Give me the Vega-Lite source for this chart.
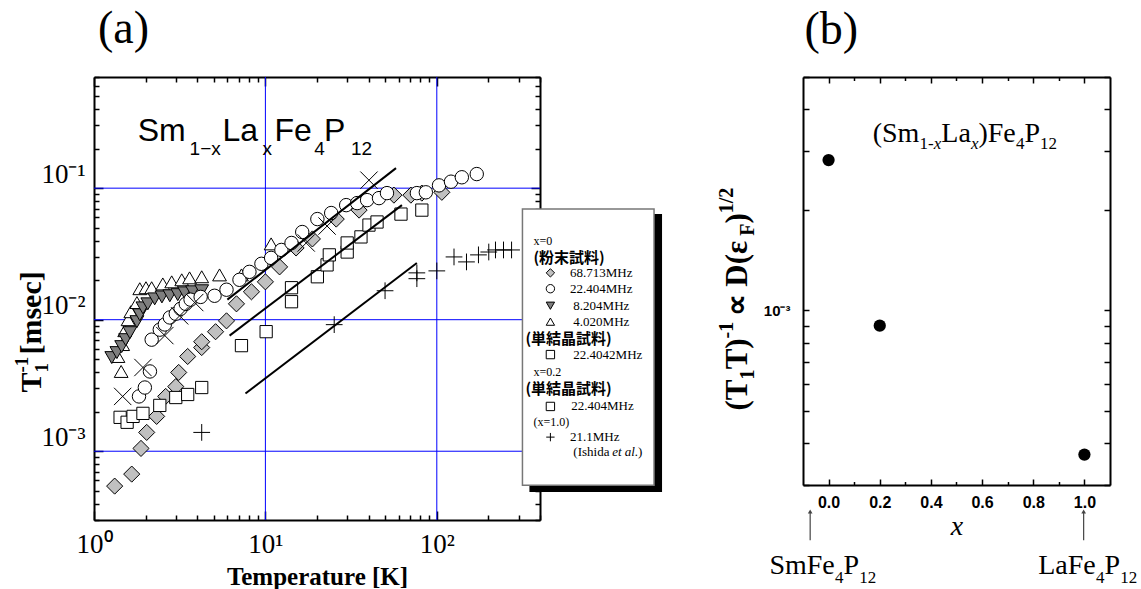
{
 "$schema": "https://vega.github.io/schema/vega-lite/v6.json",
 "background": "white",
 "padding": {"left": 12, "top": 5, "right": 0, "bottom": 0},
 "autosize": {"type": "pad"},
 "bounds": "flush",
 "spacing": 263,
 "datasets": {
  "pts": [
   {"s":"d","T":1.32,"R":0.000543},{"s":"d","T":1.66,"R":0.00067},{"s":"d","T":1.88,"R":0.00105},{"s":"d","T":2.03,"R":0.00139},{"s":"d","T":2.32,"R":0.00184},{"s":"d","T":2.62,"R":0.00261},{"s":"d","T":3.0,"R":0.0031},{"s":"d","T":3.12,"R":0.00397},{"s":"d","T":3.52,"R":0.00525},{"s":"d","T":4.25,"R":0.00614},{"s":"d","T":4.25,"R":0.0068},{"s":"d","T":5.12,"R":0.0081},{"s":"d","T":5.93,"R":0.0098},{"s":"d","T":6.78,"R":0.0132},{"s":"d","T":8.29,"R":0.0163},{"s":"d","T":10,"R":0.0194},{"s":"d","T":12.1,"R":0.0252},{"s":"d","T":15.1,"R":0.0351},{"s":"d","T":18.8,"R":0.0411},{"s":"d","T":25.9,"R":0.0582},{"s":"d","T":35.2,"R":0.0681},{"s":"d","T":56.2,"R":0.0885},{"s":"d","T":70.6,"R":0.0885},{"s":"d","T":81.8,"R":0.0917},{"s":"d","T":107,"R":0.093},
   {"s":"q0","T":1.42,"R":0.00181},{"s":"q0","T":1.56,"R":0.00166},{"s":"q0","T":1.69,"R":0.00184},{"s":"q0","T":1.93,"R":0.00194},{"s":"q0","T":2.42,"R":0.00223},{"s":"q0","T":3.0,"R":0.00256},{"s":"q0","T":3.52,"R":0.0027},{"s":"q0","T":4.25,"R":0.00305},
   {"s":"q2","T":7.25,"R":0.00635},{"s":"q2","T":10.1,"R":0.00811},{"s":"q2","T":14.2,"R":0.0175},{"s":"q2","T":14.2,"R":0.0137},{"s":"q2","T":20.1,"R":0.0212},{"s":"q2","T":22.9,"R":0.0261},{"s":"q2","T":23.6,"R":0.0311},{"s":"q2","T":30.0,"R":0.0327},{"s":"q2","T":30.0,"R":0.0383},{"s":"q2","T":36.1,"R":0.0426},{"s":"q2","T":40.2,"R":0.0524},{"s":"q2","T":44.8,"R":0.0553},{"s":"q2","T":61.8,"R":0.0635},{"s":"q2","T":81.8,"R":0.0681},
   {"s":"u","T":1.44,"R":0.00404},{"s":"u","T":1.38,"R":0.00525},{"s":"u","T":1.47,"R":0.00647},{"s":"u","T":1.51,"R":0.00825},{"s":"u","T":1.58,"R":0.01},{"s":"u","T":1.64,"R":0.0115},{"s":"u","T":1.78,"R":0.0135},{"s":"u","T":1.85,"R":0.0172},{"s":"u","T":2.01,"R":0.0175},{"s":"u","T":2.17,"R":0.0175},{"s":"u","T":2.52,"R":0.0187},{"s":"u","T":2.84,"R":0.0194},{"s":"u","T":3.25,"R":0.0201},{"s":"u","T":3.61,"R":0.0208},{"s":"u","T":4.25,"R":0.0212},{"s":"u","T":5.4,"R":0.0219},{"s":"u","T":7.25,"R":0.0219},{"s":"u","T":10.8,"R":0.0377},
   {"s":"v","T":1.27,"R":0.00515},{"s":"v","T":1.36,"R":0.00562},{"s":"v","T":1.45,"R":0.00624},{"s":"v","T":1.53,"R":0.00705},{"s":"v","T":1.62,"R":0.00797},{"s":"v","T":1.78,"R":0.00966},{"s":"v","T":1.85,"R":0.0109},{"s":"v","T":1.93,"R":0.0123},{"s":"v","T":2.06,"R":0.0132},{"s":"v","T":2.26,"R":0.0144},{"s":"v","T":2.49,"R":0.0149},{"s":"v","T":2.77,"R":0.0152},{"s":"v","T":3.08,"R":0.0155},{"s":"v","T":3.38,"R":0.016},{"s":"v","T":3.76,"R":0.0163},{"s":"v","T":4.25,"R":0.0166},
   {"s":"c","T":1.83,"R":0.00261},{"s":"c","T":1.98,"R":0.00305},{"s":"c","T":2.12,"R":0.00404},{"s":"c","T":2.17,"R":0.00705},{"s":"c","T":2.42,"R":0.0084},{"s":"c","T":2.59,"R":0.0092},{"s":"c","T":2.77,"R":0.0104},{"s":"c","T":3.0,"R":0.0111},{"s":"c","T":3.2,"R":0.0121},{"s":"c","T":3.43,"R":0.0132},{"s":"c","T":3.66,"R":0.0142},{"s":"c","T":4.19,"R":0.0149},{"s":"c","T":5.05,"R":0.0152},{"s":"c","T":5.93,"R":0.0169},{"s":"c","T":7.06,"R":0.0201},{"s":"c","T":8.07,"R":0.0231},{"s":"c","T":9.48,"R":0.0266},{"s":"c","T":10.8,"R":0.0295},{"s":"c","T":12.4,"R":0.0339},{"s":"c","T":14.2,"R":0.0383},{"s":"c","T":16.4,"R":0.0464},{"s":"c","T":20.1,"R":0.0582},{"s":"c","T":24.2,"R":0.0647},{"s":"c","T":29.6,"R":0.0743},{"s":"c","T":34.3,"R":0.077},{"s":"c","T":39.2,"R":0.0811},{"s":"c","T":46.0,"R":0.084},{"s":"c","T":51.2,"R":0.0917},{"s":"c","T":76.5,"R":0.0917},{"s":"c","T":86.3,"R":0.093},{"s":"c","T":103,"R":0.105},{"s":"c","T":121,"R":0.112},{"s":"c","T":140,"R":0.121},{"s":"c","T":171,"R":0.128},
   {"s":"x","T":1.47,"R":0.00261},{"s":"x","T":1.93,"R":0.00433},{"s":"x","T":2.59,"R":0.00757},{"s":"x","T":3.16,"R":0.0107},{"s":"x","T":3.87,"R":0.0135},{"s":"x","T":17.3,"R":0.0383},{"s":"x","T":22.9,"R":0.0515},{"s":"x","T":40.2,"R":0.115},
   {"s":"p","T":4.25,"R":0.00139},{"s":"p","T":25.2,"R":0.00917},{"s":"p","T":49.9,"R":0.0166},{"s":"p","T":76.5,"R":0.0227},{"s":"p","T":76.5,"R":0.0205},{"s":"p","T":100,"R":0.0235},{"s":"p","T":126,"R":0.03},{"s":"p","T":149,"R":0.0275},{"s":"p","T":175,"R":0.0311},{"s":"p","T":201,"R":0.0327},{"s":"p","T":220,"R":0.0339},{"s":"p","T":245,"R":0.0339},{"s":"p","T":273,"R":0.0339}
  ],
  "lines": [
   {"id":1,"T":6.0,"R":0.0142},{"id":1,"T":57.8,"R":0.142},
   {"id":2,"T":6.18,"R":0.00757},{"id":2,"T":62.6,"R":0.0743},
   {"id":3,"T":7.65,"R":0.00275},{"id":3,"T":76.5,"R":0.027}
  ],
  "gx": [{"g":10},{"g":100}],
  "gy": [{"g":0.1},{"g":0.01},{"g":0.001}],
  "shadow": [{"T":347,"T2":2061,"R":0.0636,"R2":0.000489}],
  "box": [{"T":316,"T2":1851,"R":0.0693,"R2":0.000552}],
  "lgsym": [
   {"s":"d","T":460,"R":0.0227},{"s":"c","T":460,"R":0.0172},{"s":"v","T":460,"R":0.01277},{"s":"u","T":460,"R":0.00966},{"s":"q0","T":460,"R":0.00543},{"s":"q2","T":460,"R":0.00219},{"s":"p","T":460,"R":0.00128}
  ],
  "lgtxt": [
   {"t":"68.713MHz","T":599,"R":0.0227},{"t":"22.404MHz","T":599,"R":0.0172},{"t":"8.204MHz","T":626,"R":0.01277},{"t":"4.020MHz","T":626,"R":0.00966},{"t":"22.4042MHz","T":626,"R":0.00543},{"t":"22.404MHz","T":609,"R":0.00219},{"t":"21.1MHz","T":599,"R":0.00128},{"t":"(Ishida","T":626,"R":0.00098},{"t":")","T":1494,"R":0.00098}
  ],
  "lghead": [{"t":"x=0","T":366,"R":0.0395},{"t":"x=0.2","T":366,"R":0.00402},{"t":"(x=1.0)","T":366,"R":0.00166}],
  "lgital": [{"t":"et al.","T":1055,"R":0.00098}],
  "lgcjk": [
   {"t":"(粉末試料)","T":366,"R":0.0292},{"t":"(単結晶試料)","T":329,"R":0.00712},{"t":"(単結晶試料)","T":329,"R":0.00297}
  ],
  "fbig": [{"t":"Sm","T":1.80,"R":0.227},{"t":"La","T":5.62,"R":0.227},{"t":"Fe","T":11.3,"R":0.227},{"t":"P","T":22.0,"R":0.227}],
  "fsmall": [{"t":"1−x","T":3.61,"R":0.178},{"t":"x","T":9.61,"R":0.178},{"t":"4","T":19.3,"R":0.178},{"t":"12","T":31.6,"R":0.178}],
  "ytmain": [{"t":"T","T":0.492,"R":0.0028},{"t":"[msec]","T":0.492,"R":0.00543}],
  "ytsmall": [{"t":"1","T":0.537,"R":0.00397},{"t":"-1","T":0.41,"R":0.00397}],
  "plabA": [{"t":"(a)","T":1.055,"R":1.276}],
  "bpts": [{"xv":0,"v":0.00282},{"xv":0.2,"v":0.0009},{"xv":1.0,"v":0.00037}],
  "plabB": [{"t":"(b)","xv":-0.094,"v":0.00627}],
  "bbig": [
   {"t":"(Sm","xv":0.1725,"v":0.00319},{"t":"La","xv":0.4408,"v":0.00319},{"t":")Fe","xv":0.5859,"v":0.00319},{"t":"P","xv":0.7655,"v":0.00319},
   {"t":"SmFe","xv":-0.2314,"v":0.000162},{"t":"P","xv":0.0584,"v":0.000162},{"t":"LaFe","xv":0.8196,"v":0.000162},{"t":"P","xv":1.0784,"v":0.000162}
  ],
  "bsub": [
   {"t":"1-","xv":0.3557,"v":0.00304},{"t":"4","xv":0.7322,"v":0.00304},{"t":"12","xv":0.8267,"v":0.00304},
   {"t":"4","xv":0.0251,"v":0.000153},{"t":"12","xv":0.1196,"v":0.000153},{"t":"4","xv":1.0451,"v":0.000153},{"t":"12","xv":1.1396,"v":0.000153}
  ],
  "bsubi": [{"t":"x","xv":0.4114,"v":0.00304},{"t":"x","xv":0.5565,"v":0.00304}],
  "brmain": [{"t":"(T","xv":-0.318,"v":0.0005015},{"t":"T)","xv":-0.318,"v":0.000666},{"t":"∝ D(ε","xv":-0.318,"v":0.000959},{"t":")","xv":-0.318,"v":0.00182}],
  "brsmall": [{"t":"1","xv":-0.29,"v":0.000621},{"t":"F","xv":-0.29,"v":0.001674},{"t":"-1","xv":-0.373,"v":0.0008245},{"t":"1/2","xv":-0.373,"v":0.001954}],
  "arr": [{"xv":-0.072,"v1":0.000205,"v2":0.00025},{"xv":0.997,"v1":0.000205,"v2":0.00025}]
 },
 "hconcat": [
  {
   "width": 446,
   "height": 443,
   "layer": [
    {
     "data": {"name":"gx"},
     "mark": {"type":"rule","color":"#0000ff","strokeWidth":1},
     "encoding": {
      "x": {"field":"g","type":"quantitative","scale":{"type":"log","domain":[1,400],"nice":false,"zero":false},"axis":null}
     }
    },
    {
     "data": {"name":"gy"},
     "mark": {"type":"rule","color":"#0000ff","strokeWidth":1},
     "encoding": {
      "y": {"field":"g","type":"quantitative","scale":{"type":"log","domain":[0.0003,0.7],"nice":false,"zero":false},"axis":null}
     }
    },
    {
     "data": {"name":"pts"},
     "mark": {"type":"point","filled":true,"stroke":"black","strokeWidth":1,"opacity":1},
     "encoding": {
      "x": {"field":"T","type":"quantitative","scale":{"type":"log","domain":[1,400],"nice":false,"zero":false},
        "axis":{"orient":"bottom","values":[1,2,3,4,5,6,7,8,9,10,20,30,40,50,60,70,80,90,100,200,300,400],
          "labelExpr":"datum.value == 1 ? '10⁰' : datum.value == 10 ? '10¹' : datum.value == 100 ? '10²' : ''",
          "tickSize":{"condition":{"test":"datum.value == 1 || datum.value == 10 || datum.value == 100","value":-9},"value":-5},
          "grid":false,
          "labelFont":"Liberation Serif","labelFontSize":27,"labelPadding":20,"labelFlush":false,"labelOverlap":false,
          "title":"Temperature [K]","titleFont":"Liberation Serif","titleFontWeight":"bold","titleFontSize":25,"titlePadding":3,"zindex":0}},
      "y": {"field":"R","type":"quantitative","scale":{"type":"log","domain":[0.0003,0.7],"nice":false,"zero":false},
        "axis":{"orient":"left","values":[0.0003,0.0004,0.0005,0.0006,0.0007,0.0008,0.0009,0.001,0.002,0.003,0.004,0.005,0.006,0.007,0.008,0.009,0.01,0.02,0.03,0.04,0.05,0.06,0.07,0.08,0.09,0.1,0.2,0.3,0.4,0.5,0.6,0.7],
          "labelExpr":"datum.value == 0.1 ? '10⁻¹' : datum.value == 0.01 ? '10⁻²' : datum.value == 0.001 ? '10⁻³' : ''",
          "tickSize":{"condition":{"test":"datum.value == 0.1 || datum.value == 0.01 || datum.value == 0.001","value":-9},"value":-5},
          "grid":false,
          "labelFont":"Liberation Serif","labelFontSize":27,"labelPadding":18,"labelBaseline":"bottom","labelFlush":false,"labelOverlap":false,
          "title":null,"zindex":0}},
      "shape": {"field":"s","type":"nominal","legend":null,"scale":{"domain":["d","q0","q2","v","u","c","x","p"],"range":["diamond","square","square","triangle-down","triangle-up","circle","M-1,-1L1,1M-1,1L1,-1","M-1,0L1,0M0,-1L0,1"]}},
      "fill": {"field":"s","type":"nominal","legend":null,"scale":{"domain":["d","q0","q2","v","u","c","x","p"],"range":["#c0c0c0","white","white","#7f7f7f","white","white","none","none"]}},
      "size": {"field":"s","type":"ordinal","legend":null,"scale":{"type":"ordinal","domain":["d","q0","q2","v","u","c","x","p"],"range":[260,150,150,190,190,180,300,280]}}
     }
    },
    {
     "data": {"name":"lines"},
     "mark": {"type":"line","color":"black","strokeWidth":2},
     "encoding": {
      "x": {"field":"T","type":"quantitative","scale":{"type":"log","domain":[1,400],"nice":false,"zero":false},"axis":null},
      "y": {"field":"R","type":"quantitative","scale":{"type":"log","domain":[0.0003,0.7],"nice":false,"zero":false},"axis":null},
      "detail": {"field":"id","type":"nominal"}
     }
    },
    {
     "data": {"name":"pts"},
     "mark": {"type":"point","opacity":0},
     "encoding": {
      "x": {"field":"T","type":"quantitative","scale":{"type":"log","domain":[1,400],"nice":false,"zero":false},
        "axis":{"orient":"top","values":[1,2,3,4,5,6,7,8,9,10,20,30,40,50,60,70,80,90,100,200,300,400],"labels":false,
          "tickSize":{"condition":{"test":"datum.value == 1 || datum.value == 10 || datum.value == 100","value":-9},"value":-5},
          "grid":false,"title":null,"zindex":0}},
      "y": {"field":"R","type":"quantitative","scale":{"type":"log","domain":[0.0003,0.7],"nice":false,"zero":false},
        "axis":{"orient":"right","values":[0.0003,0.0004,0.0005,0.0006,0.0007,0.0008,0.0009,0.001,0.002,0.003,0.004,0.005,0.006,0.007,0.008,0.009,0.01,0.02,0.03,0.04,0.05,0.06,0.07,0.08,0.09,0.1,0.2,0.3,0.4,0.5,0.6,0.7],"labels":false,
          "tickSize":{"condition":{"test":"datum.value == 0.1 || datum.value == 0.01 || datum.value == 0.001","value":-9},"value":-5},
          "grid":false,"title":null,"zindex":0}}
     }
    },
    {
     "data": {"name":"shadow"},
     "mark": {"type":"rect","fill":"black","clip":false},
     "encoding": {
      "x": {"field":"T","type":"quantitative","scale":{"type":"log","domain":[1,400],"nice":false,"zero":false},"axis":null},
      "x2": {"field":"T2"},
      "y": {"field":"R","type":"quantitative","scale":{"type":"log","domain":[0.0003,0.7],"nice":false,"zero":false},"axis":null},
      "y2": {"field":"R2"}
     }
    },
    {
     "data": {"name":"box"},
     "mark": {"type":"rect","fill":"white","stroke":"#777777","strokeWidth":1.5,"clip":false},
     "encoding": {
      "x": {"field":"T","type":"quantitative","scale":{"type":"log","domain":[1,400],"nice":false,"zero":false},"axis":null},
      "x2": {"field":"T2"},
      "y": {"field":"R","type":"quantitative","scale":{"type":"log","domain":[0.0003,0.7],"nice":false,"zero":false},"axis":null},
      "y2": {"field":"R2"}
     }
    },
    {
     "data": {"name":"lgsym"},
     "mark": {"type":"point","filled":true,"stroke":"black","strokeWidth":1,"opacity":1,"size":70,"clip":false},
     "encoding": {
      "x": {"field":"T","type":"quantitative","scale":{"type":"log","domain":[1,400],"nice":false,"zero":false},"axis":null},
      "y": {"field":"R","type":"quantitative","scale":{"type":"log","domain":[0.0003,0.7],"nice":false,"zero":false},"axis":null},
      "shape": {"field":"s","type":"nominal","legend":null,"scale":{"domain":["d","q0","q2","v","u","c","x","p"],"range":["diamond","square","square","triangle-down","triangle-up","circle","M-1,-1L1,1M-1,1L1,-1","M-1,0L1,0M0,-1L0,1"]}},
      "fill": {"field":"s","type":"nominal","legend":null,"scale":{"domain":["d","q0","q2","v","u","c","x","p"],"range":["#c0c0c0","white","white","#7f7f7f","white","white","none","none"]}}
     }
    },
    {
     "data": {"name":"lgtxt"},
     "mark": {"type":"text","font":"Liberation Serif","fontSize":13,"align":"left","baseline":"middle","color":"black","clip":false},
     "encoding": {
      "x": {"field":"T","type":"quantitative","scale":{"type":"log","domain":[1,400],"nice":false,"zero":false},"axis":null},
      "y": {"field":"R","type":"quantitative","scale":{"type":"log","domain":[0.0003,0.7],"nice":false,"zero":false},"axis":null},
      "text": {"field":"t"}
     }
    },
    {
     "data": {"name":"lghead"},
     "mark": {"type":"text","font":"Liberation Serif","fontSize":12,"align":"left","baseline":"middle","color":"black","clip":false},
     "encoding": {
      "x": {"field":"T","type":"quantitative","scale":{"type":"log","domain":[1,400],"nice":false,"zero":false},"axis":null},
      "y": {"field":"R","type":"quantitative","scale":{"type":"log","domain":[0.0003,0.7],"nice":false,"zero":false},"axis":null},
      "text": {"field":"t"}
     }
    },
    {
     "data": {"name":"lgital"},
     "mark": {"type":"text","font":"Liberation Serif","fontSize":13,"fontStyle":"italic","align":"left","baseline":"middle","color":"black","clip":false},
     "encoding": {
      "x": {"field":"T","type":"quantitative","scale":{"type":"log","domain":[1,400],"nice":false,"zero":false},"axis":null},
      "y": {"field":"R","type":"quantitative","scale":{"type":"log","domain":[0.0003,0.7],"nice":false,"zero":false},"axis":null},
      "text": {"field":"t"}
     }
    },
    {
     "data": {"name":"lgcjk"},
     "mark": {"type":"text","font":"Noto Sans CJK JP","fontSize":15,"fontWeight":"bold","align":"left","baseline":"middle","color":"black","clip":false},
     "encoding": {
      "x": {"field":"T","type":"quantitative","scale":{"type":"log","domain":[1,400],"nice":false,"zero":false},"axis":null},
      "y": {"field":"R","type":"quantitative","scale":{"type":"log","domain":[0.0003,0.7],"nice":false,"zero":false},"axis":null},
      "text": {"field":"t"}
     }
    },
    {
     "data": {"name":"fbig"},
     "mark": {"type":"text","font":"Liberation Sans","fontSize":32,"align":"left","baseline":"alphabetic","color":"black","clip":false},
     "encoding": {
      "x": {"field":"T","type":"quantitative","scale":{"type":"log","domain":[1,400],"nice":false,"zero":false},"axis":null},
      "y": {"field":"R","type":"quantitative","scale":{"type":"log","domain":[0.0003,0.7],"nice":false,"zero":false},"axis":null},
      "text": {"field":"t"}
     }
    },
    {
     "data": {"name":"fsmall"},
     "mark": {"type":"text","font":"Liberation Sans","fontSize":19,"align":"left","baseline":"alphabetic","color":"black","clip":false},
     "encoding": {
      "x": {"field":"T","type":"quantitative","scale":{"type":"log","domain":[1,400],"nice":false,"zero":false},"axis":null},
      "y": {"field":"R","type":"quantitative","scale":{"type":"log","domain":[0.0003,0.7],"nice":false,"zero":false},"axis":null},
      "text": {"field":"t"}
     }
    },
    {
     "data": {"name":"ytmain"},
     "mark": {"type":"text","font":"Liberation Serif","fontSize":30,"fontWeight":"bold","angle":270,"align":"left","baseline":"alphabetic","color":"black","clip":false},
     "encoding": {
      "x": {"field":"T","type":"quantitative","scale":{"type":"log","domain":[1,400],"nice":false,"zero":false},"axis":null},
      "y": {"field":"R","type":"quantitative","scale":{"type":"log","domain":[0.0003,0.7],"nice":false,"zero":false},"axis":null},
      "text": {"field":"t"}
     }
    },
    {
     "data": {"name":"ytsmall"},
     "mark": {"type":"text","font":"Liberation Serif","fontSize":19,"fontWeight":"bold","angle":270,"align":"left","baseline":"alphabetic","color":"black","clip":false},
     "encoding": {
      "x": {"field":"T","type":"quantitative","scale":{"type":"log","domain":[1,400],"nice":false,"zero":false},"axis":null},
      "y": {"field":"R","type":"quantitative","scale":{"type":"log","domain":[0.0003,0.7],"nice":false,"zero":false},"axis":null},
      "text": {"field":"t"}
     }
    },
    {
     "data": {"name":"plabA"},
     "mark": {"type":"text","font":"Liberation Serif","fontSize":46,"align":"left","baseline":"alphabetic","color":"black","clip":false},
     "encoding": {
      "x": {"field":"T","type":"quantitative","scale":{"type":"log","domain":[1,400],"nice":false,"zero":false},"axis":null},
      "y": {"field":"R","type":"quantitative","scale":{"type":"log","domain":[0.0003,0.7],"nice":false,"zero":false},"axis":null},
      "text": {"field":"t"}
     }
    }
   ],
   "resolve": {"axis": {"x":"independent","y":"independent"}}
  },
  {
   "width": 307,
   "height": 408,
   "layer": [
    {
     "data": {"name":"bpts"},
     "mark": {"type":"point","filled":true,"color":"black","opacity":1,"size":150},
     "encoding": {
      "x": {"field":"xv","type":"quantitative","scale":{"domain":[-0.1,1.1],"nice":false,"zero":false},
        "axis":{"orient":"bottom","values":[0,0.1,0.2,0.3,0.4,0.5,0.6,0.7,0.8,0.9,1],
          "labelExpr":"round(datum.value*10) % 2 == 0 ? format(datum.value, '.1f') : ''",
          "tickSize":{"condition":{"test":"round(datum.value*10) % 2 == 0","value":-6},"value":-3.5},
          "grid":false,"labelFont":"Liberation Sans","labelFontWeight":"bold","labelFontSize":16,"labelPadding":15,"labelFlush":false,"labelOverlap":false,
          "title":"x","titleFont":"Liberation Serif","titleFontStyle":"italic","titleFontWeight":"normal","titleFontSize":28,"titlePadding":0,"zindex":0}},
      "y": {"field":"v","type":"quantitative","scale":{"type":"log","domain":[0.0003,0.005],"nice":false,"zero":false},
        "axis":{"orient":"left","values":[0.0003,0.0004,0.0005,0.0006,0.0007,0.0008,0.0009,0.001,0.002,0.003,0.004,0.005],
          "labelExpr":"datum.value == 0.001 ? '10⁻³' : ''","tickSize":-6,"grid":false,
          "labelFont":"Liberation Sans","labelFontWeight":"bold","labelFontSize":15,"labelPadding":19,"labelFlush":false,"labelOverlap":false,
          "title":null,"zindex":0}}
     }
    },
    {
     "data": {"name":"bpts"},
     "mark": {"type":"point","opacity":0},
     "encoding": {
      "x": {"field":"xv","type":"quantitative","scale":{"domain":[-0.1,1.1],"nice":false,"zero":false},
        "axis":{"orient":"top","values":[0,0.1,0.2,0.3,0.4,0.5,0.6,0.7,0.8,0.9,1],"labels":false,
          "tickSize":{"condition":{"test":"round(datum.value*10) % 2 == 0","value":-6},"value":-3.5},"grid":false,"title":null,"zindex":0}},
      "y": {"field":"v","type":"quantitative","scale":{"type":"log","domain":[0.0003,0.005],"nice":false,"zero":false},
        "axis":{"orient":"right","values":[0.0003,0.0004,0.0005,0.0006,0.0007,0.0008,0.0009,0.001,0.002,0.003,0.004,0.005],"labels":false,"tickSize":-6,"grid":false,"title":null,"zindex":0}}
     }
    },
    {
     "data": {"name":"arr"},
     "mark": {"type":"rule","color":"#444444","strokeWidth":1.2,"clip":false},
     "encoding": {
      "x": {"field":"xv","type":"quantitative","scale":{"domain":[-0.1,1.1],"nice":false,"zero":false},"axis":null},
      "y": {"field":"v1","type":"quantitative","scale":{"type":"log","domain":[0.0003,0.005],"nice":false,"zero":false},"axis":null},
      "y2": {"field":"v2"}
     }
    },
    {
     "data": {"name":"arr"},
     "mark": {"type":"point","shape":"triangle-up","filled":true,"color":"#444444","opacity":1,"size":22,"clip":false},
     "encoding": {
      "x": {"field":"xv","type":"quantitative","scale":{"domain":[-0.1,1.1],"nice":false,"zero":false},"axis":null},
      "y": {"field":"v2","type":"quantitative","scale":{"type":"log","domain":[0.0003,0.005],"nice":false,"zero":false},"axis":null}
     }
    },
    {
     "data": {"name":"bbig"},
     "mark": {"type":"text","font":"Liberation Serif","fontSize":28,"align":"left","baseline":"alphabetic","color":"black","clip":false},
     "encoding": {
      "x": {"field":"xv","type":"quantitative","scale":{"domain":[-0.1,1.1],"nice":false,"zero":false},"axis":null},
      "y": {"field":"v","type":"quantitative","scale":{"type":"log","domain":[0.0003,0.005],"nice":false,"zero":false},"axis":null},
      "text": {"field":"t"}
     }
    },
    {
     "data": {"name":"bsub"},
     "mark": {"type":"text","font":"Liberation Serif","fontSize":17,"align":"left","baseline":"alphabetic","color":"black","clip":false},
     "encoding": {
      "x": {"field":"xv","type":"quantitative","scale":{"domain":[-0.1,1.1],"nice":false,"zero":false},"axis":null},
      "y": {"field":"v","type":"quantitative","scale":{"type":"log","domain":[0.0003,0.005],"nice":false,"zero":false},"axis":null},
      "text": {"field":"t"}
     }
    },
    {
     "data": {"name":"bsubi"},
     "mark": {"type":"text","font":"Liberation Serif","fontSize":17,"fontStyle":"italic","align":"left","baseline":"alphabetic","color":"black","clip":false},
     "encoding": {
      "x": {"field":"xv","type":"quantitative","scale":{"domain":[-0.1,1.1],"nice":false,"zero":false},"axis":null},
      "y": {"field":"v","type":"quantitative","scale":{"type":"log","domain":[0.0003,0.005],"nice":false,"zero":false},"axis":null},
      "text": {"field":"t"}
     }
    },
    {
     "data": {"name":"brmain"},
     "mark": {"type":"text","font":"Liberation Serif","fontSize":31,"fontWeight":"bold","angle":270,"align":"left","baseline":"alphabetic","color":"black","clip":false},
     "encoding": {
      "x": {"field":"xv","type":"quantitative","scale":{"domain":[-0.1,1.1],"nice":false,"zero":false},"axis":null},
      "y": {"field":"v","type":"quantitative","scale":{"type":"log","domain":[0.0003,0.005],"nice":false,"zero":false},"axis":null},
      "text": {"field":"t"}
     }
    },
    {
     "data": {"name":"brsmall"},
     "mark": {"type":"text","font":"Liberation Serif","fontSize":20,"fontWeight":"bold","angle":270,"align":"left","baseline":"alphabetic","color":"black","clip":false},
     "encoding": {
      "x": {"field":"xv","type":"quantitative","scale":{"domain":[-0.1,1.1],"nice":false,"zero":false},"axis":null},
      "y": {"field":"v","type":"quantitative","scale":{"type":"log","domain":[0.0003,0.005],"nice":false,"zero":false},"axis":null},
      "text": {"field":"t"}
     }
    },
    {
     "data": {"name":"plabB"},
     "mark": {"type":"text","font":"Liberation Serif","fontSize":46,"align":"left","baseline":"alphabetic","color":"black","clip":false},
     "encoding": {
      "x": {"field":"xv","type":"quantitative","scale":{"domain":[-0.1,1.1],"nice":false,"zero":false},"axis":null},
      "y": {"field":"v","type":"quantitative","scale":{"type":"log","domain":[0.0003,0.005],"nice":false,"zero":false},"axis":null},
      "text": {"field":"t"}
     }
    }
   ],
   "resolve": {"axis": {"x":"independent","y":"independent"}}
  }
 ],
 "config": {
  "view": {"stroke": null},
  "axis": {"domainColor":"black","domainWidth":2,"tickColor":"black","tickWidth":1.5,"labelColor":"black","titleColor":"black"}
 }
}
